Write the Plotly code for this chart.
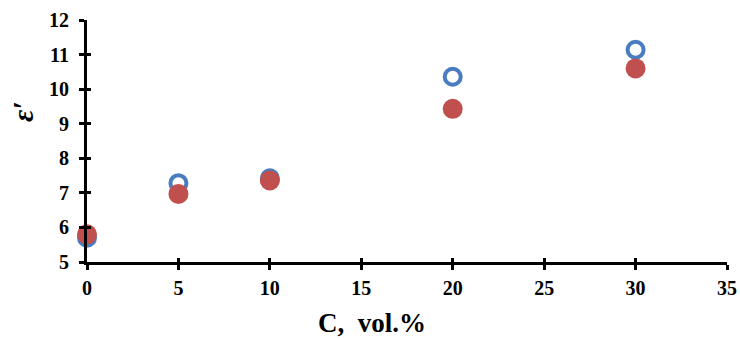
import plotly.graph_objects as go

conc = [0, 5, 10, 20, 30]
eps_open = [5.70, 7.28, 7.42, 10.36, 11.14]
eps_filled = [5.80, 6.97, 7.36, 9.43, 10.60]

x_ticks = [0, 5, 10, 15, 20, 25, 30, 35]
y_ticks = [5, 6, 7, 8, 9, 10, 11, 12]

font_family = '"Liberation Serif", "Times New Roman", serif'

fig = go.Figure()
fig.add_trace(go.Scatter(
    x=conc, y=eps_open, mode="markers",
    marker=dict(size=16, color="rgba(0,0,0,0)",
                line=dict(color="#4a7cc0", width=4)),
    showlegend=False, cliponaxis=False))
fig.add_trace(go.Scatter(
    x=conc, y=eps_filled, mode="markers",
    marker=dict(size=20, color="#c0504d", line=dict(width=0)),
    showlegend=False, cliponaxis=False))

axis_common = dict(showgrid=False, zeroline=False, showline=True,
                   linecolor="black", linewidth=3, ticks="outside",
                   tickwidth=2.5, ticklen=5, tickcolor="black",
                   automargin=False,
                   tickfont=dict(family=font_family, size=20, color="black",
                                 weight="bold"))

fig.update_layout(
    width=740, height=340,
    margin=dict(l=87, r=13, t=20, b=78),
    plot_bgcolor="white", paper_bgcolor="white",
    xaxis=dict(range=[0, 35], tickvals=x_ticks, ticklabelstandoff=1,
               **axis_common),
    yaxis=dict(range=[5, 12], tickvals=y_ticks, ticklabelstandoff=6,
               **axis_common),
    # inner half of the crossing tick marks
    xaxis2=dict(range=[0, 35], tickvals=x_ticks, overlaying="x",
                showgrid=False, zeroline=False, showline=False,
                ticks="inside", ticklen=4, tickwidth=2.5, tickcolor="black",
                showticklabels=False, side="bottom", automargin=False),
    yaxis2=dict(range=[5, 12], tickvals=y_ticks, overlaying="y",
                showgrid=False, zeroline=False, showline=False,
                ticks="inside", ticklen=4, tickwidth=2.5, tickcolor="black",
                showticklabels=False, side="left", automargin=False),
)
fig.add_trace(go.Scatter(x=[None], y=[None], xaxis="x2", yaxis="y2",
                         showlegend=False, hoverinfo="skip"))

fig.add_annotation(text="C,  vol.%", xref="paper", yref="paper",
                   x=0.445, y=-0.25, xanchor="center", yanchor="middle",
                   showarrow=False,
                   font=dict(family=font_family, size=27, color="black",
                             weight="bold"))
fig.add_annotation(text="<i>ε′</i>", xref="paper", yref="paper",
                   x=-0.1, y=0.62, xanchor="center", yanchor="middle",
                   textangle=-90, showarrow=False,
                   font=dict(family=font_family, size=30, color="black",
                             weight="bold"))

fig.write_html("out.html")
